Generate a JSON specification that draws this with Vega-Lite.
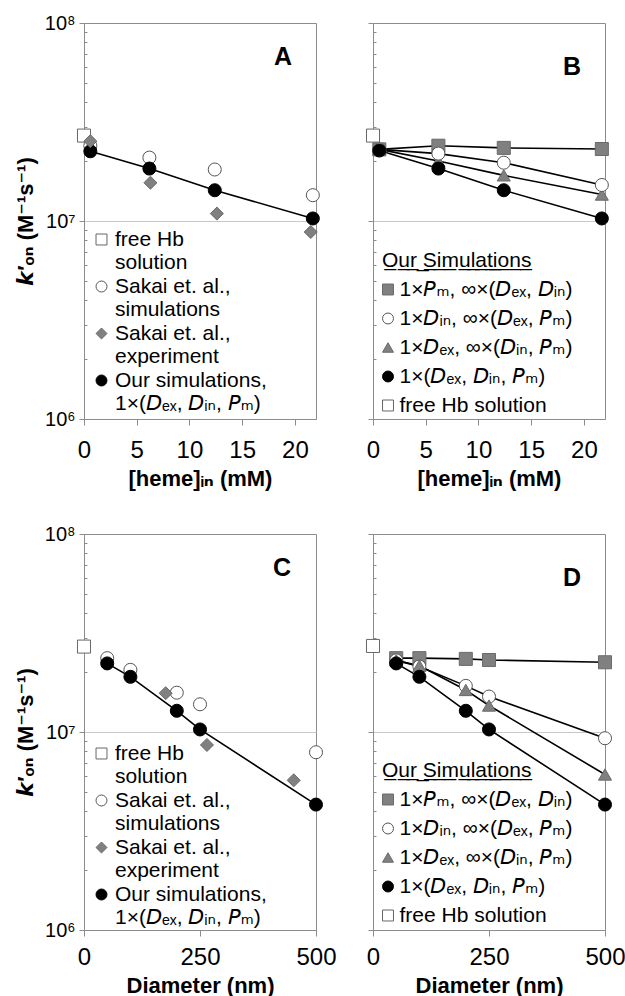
{
  "$schema": "https://vega.github.io/schema/vega-lite/v6.json",
  "background": "white",
  "padding": {"left": 13, "top": 12, "right": 8, "bottom": 4},
  "bounds": "flush",
  "columns": 2,
  "spacing": {"row": 115, "column": 57},
  "config": {
    "font": "Liberation Sans, DejaVu Sans",
    "view": {"stroke": "#8c8c8c", "strokeWidth": 1},
    "axis": {
      "domainColor": "#8c8c8c", "tickColor": "#8c8c8c", "labelColor": "black", "titleColor": "black",
      "labelFlush": false, "labelOverlap": false, "grid": false,
      "labelFont": "Liberation Sans, DejaVu Sans", "titleFont": "Liberation Sans, DejaVu Sans",
      "titleFontWeight": "bold", "titleFontSize": 22
    },
    "axisX": {"labelFontSize": 24, "tickSize": 6, "labelPadding": 13, "titlePadding": 6},
    "axisY": {"labelFontSize": 20, "labelPadding": 4, "titlePadding": 7, "gridColor": "#c8c8c8"},
    "legend": {
      "labelFont": "Liberation Sans, DejaVu Sans", "labelFontSize": 21, "labelColor": "black",
      "titleFont": "Liberation Sans, DejaVu Sans", "titleFontSize": 21, "titleFontWeight": "normal", "titleColor": "black",
      "symbolSize": 120, "symbolStrokeWidth": 1, "padding": 0, "labelLimit": 320, "labelBaseline": "middle"
    },
    "title": {"anchor": "end", "frame": "group", "fontSize": 25, "fontWeight": "bold", "color": "black", "baseline": "alphabetic", "offset": 0}
  },
  "resolve": {
    "scale": {"shape": "independent", "fill": "independent", "stroke": "independent", "x": "independent", "y": "independent"},
    "legend": {"shape": "independent", "fill": "independent", "stroke": "independent"}
  },
  "concat": [
    {
      "width": 232, "height": 396,
      "title": {"text": "A", "dy": 61, "dx": -24},
      "data": {"values": [
        {"heme": 0, "kon": 27000000, "series": "free Hb|solution"},
        {"heme": 0.6, "kon": 24000000, "series": "Sakai et. al.,|simulations"},
        {"heme": 6.2, "kon": 20900000, "series": "Sakai et. al.,|simulations"},
        {"heme": 12.4, "kon": 18200000, "series": "Sakai et. al.,|simulations"},
        {"heme": 21.7, "kon": 13500000, "series": "Sakai et. al.,|simulations"},
        {"heme": 0.6, "kon": 22500000, "series": "Our simulations,|1×(𝘋ₑₓ, 𝘋ᵢₙ, 𝘗ₘ)"},
        {"heme": 6.2, "kon": 18400000, "series": "Our simulations,|1×(𝘋ₑₓ, 𝘋ᵢₙ, 𝘗ₘ)"},
        {"heme": 12.4, "kon": 14300000, "series": "Our simulations,|1×(𝘋ₑₓ, 𝘋ᵢₙ, 𝘗ₘ)"},
        {"heme": 21.7, "kon": 10300000, "series": "Our simulations,|1×(𝘋ₑₓ, 𝘋ᵢₙ, 𝘗ₘ)"},
        {"heme": 0.6, "kon": 25300000, "series": "Sakai et. al.,|experiment"},
        {"heme": 6.3, "kon": 15600000, "series": "Sakai et. al.,|experiment"},
        {"heme": 12.6, "kon": 10900000, "series": "Sakai et. al.,|experiment"},
        {"heme": 21.5, "kon": 8800000, "series": "Sakai et. al.,|experiment"}
      ]},
      "encoding": {
        "x": {"field": "heme", "type": "quantitative", "scale": {"domain": [0, 22]},
              "axis": {"title": "[heme]ᵢₙ (mM)", "values": [0, 5, 10, 15, 20]}},
        "y": {"field": "kon", "type": "quantitative", "scale": {"type": "log", "domain": [1000000, 100000000]},
              "axis": {
                "title": "𝙠′ₒₙ (M⁻¹s⁻¹)",
                "values": [1000000, 2000000, 3000000, 4000000, 5000000, 6000000, 7000000, 8000000, 9000000, 10000000, 20000000, 30000000, 40000000, 50000000, 60000000, 70000000, 80000000, 90000000, 100000000],
                "labelExpr": "datum.value == 1000000 ? '10⁶' : datum.value == 10000000 ? '10⁷' : datum.value == 100000000 ? '10⁸' : ''",
                "tickSize": {"condition": {"test": "datum.value == 1000000 || datum.value == 10000000 || datum.value == 100000000", "value": 5}, "value": -3},
                "grid": true,
                "gridOpacity": {"condition": {"test": "datum.value == 10000000", "value": 1}, "value": 0}
              }}
      },
      "layer": [
        {
          "transform": [{"filter": {"field": "series", "equal": "Our simulations,|1×(𝘋ₑₓ, 𝘋ᵢₙ, 𝘗ₘ)"}}],
          "mark": {"type": "line", "color": "black", "strokeWidth": 1.6},
          "encoding": {"detail": {"field": "series"}}
        },
        {
          "mark": {"type": "point", "filled": true, "size": 170, "strokeWidth": 1, "opacity": 1},
          "encoding": {
            "shape": {"field": "series", "type": "nominal",
              "scale": {"domain": ["free Hb|solution", "Sakai et. al.,|simulations", "Sakai et. al.,|experiment", "Our simulations,|1×(𝘋ₑₓ, 𝘋ᵢₙ, 𝘗ₘ)"], "range": ["square", "circle", "diamond", "circle"]},
              "legend": {"orient": "none", "legendX": 7, "legendY": 206, "title": null, "labelOffset": 3, "rowPadding": 2, "labelExpr": "split(datum.label, '|')"}},
            "fill": {"field": "series", "type": "nominal",
              "scale": {"domain": ["free Hb|solution", "Sakai et. al.,|simulations", "Sakai et. al.,|experiment", "Our simulations,|1×(𝘋ₑₓ, 𝘋ᵢₙ, 𝘗ₘ)"], "range": ["white", "white", "#808080", "black"]},
              "legend": {"orient": "none", "legendX": 7, "legendY": 206, "title": null, "labelOffset": 3, "rowPadding": 2, "labelExpr": "split(datum.label, '|')"}},
            "stroke": {"field": "series", "type": "nominal",
              "scale": {"domain": ["free Hb|solution", "Sakai et. al.,|simulations", "Sakai et. al.,|experiment", "Our simulations,|1×(𝘋ₑₓ, 𝘋ᵢₙ, 𝘗ₘ)"], "range": ["#666666", "#555555", "#6a6a6a", "black"]},
              "legend": {"orient": "none", "legendX": 7, "legendY": 206, "title": null, "labelOffset": 3, "rowPadding": 2, "labelExpr": "split(datum.label, '|')"}}
          }
        }
      ]
    },
    {
      "width": 232, "height": 396,
      "title": {"text": "B", "dy": 61, "dx": -24},
      "data": {"values": [
        {"heme": 0, "kon": 27000000, "series": "free Hb solution"},
        {"heme": 0.6, "kon": 23000000, "series": "1×𝘗ₘ, ∞×(𝘋ₑₓ, 𝘋ᵢₙ)"},
        {"heme": 6.2, "kon": 24000000, "series": "1×𝘗ₘ, ∞×(𝘋ₑₓ, 𝘋ᵢₙ)"},
        {"heme": 12.4, "kon": 23400000, "series": "1×𝘗ₘ, ∞×(𝘋ₑₓ, 𝘋ᵢₙ)"},
        {"heme": 21.7, "kon": 23100000, "series": "1×𝘗ₘ, ∞×(𝘋ₑₓ, 𝘋ᵢₙ)"},
        {"heme": 0.6, "kon": 23000000, "series": "1×𝘋ₑₓ, ∞×(𝘋ᵢₙ, 𝘗ₘ)"},
        {"heme": 6.2, "kon": 20100000, "series": "1×𝘋ₑₓ, ∞×(𝘋ᵢₙ, 𝘗ₘ)"},
        {"heme": 12.4, "kon": 17000000, "series": "1×𝘋ₑₓ, ∞×(𝘋ᵢₙ, 𝘗ₘ)"},
        {"heme": 21.7, "kon": 13600000, "series": "1×𝘋ₑₓ, ∞×(𝘋ᵢₙ, 𝘗ₘ)"},
        {"heme": 0.6, "kon": 23000000, "series": "1×𝘋ᵢₙ, ∞×(𝘋ₑₓ, 𝘗ₘ)"},
        {"heme": 6.2, "kon": 21900000, "series": "1×𝘋ᵢₙ, ∞×(𝘋ₑₓ, 𝘗ₘ)"},
        {"heme": 12.4, "kon": 19700000, "series": "1×𝘋ᵢₙ, ∞×(𝘋ₑₓ, 𝘗ₘ)"},
        {"heme": 21.7, "kon": 15200000, "series": "1×𝘋ᵢₙ, ∞×(𝘋ₑₓ, 𝘗ₘ)"},
        {"heme": 0.6, "kon": 22700000, "series": "1×(𝘋ₑₓ, 𝘋ᵢₙ, 𝘗ₘ)"},
        {"heme": 6.2, "kon": 18400000, "series": "1×(𝘋ₑₓ, 𝘋ᵢₙ, 𝘗ₘ)"},
        {"heme": 12.4, "kon": 14300000, "series": "1×(𝘋ₑₓ, 𝘋ᵢₙ, 𝘗ₘ)"},
        {"heme": 21.7, "kon": 10300000, "series": "1×(𝘋ₑₓ, 𝘋ᵢₙ, 𝘗ₘ)"}
      ]},
      "encoding": {
        "x": {"field": "heme", "type": "quantitative", "scale": {"domain": [0, 22]},
              "axis": {"title": "[heme]ᵢₙ (mM)", "values": [0, 5, 10, 15, 20]}},
        "y": {"field": "kon", "type": "quantitative", "scale": {"type": "log", "domain": [1000000, 100000000]},
              "axis": {
                "title": null, "labels": false,
                "values": [1000000, 2000000, 3000000, 4000000, 5000000, 6000000, 7000000, 8000000, 9000000, 10000000, 20000000, 30000000, 40000000, 50000000, 60000000, 70000000, 80000000, 90000000, 100000000],
                "tickSize": {"condition": {"test": "datum.value == 1000000 || datum.value == 10000000 || datum.value == 100000000", "value": 5}, "value": -3},
                "grid": true,
                "gridOpacity": {"condition": {"test": "datum.value == 10000000", "value": 1}, "value": 0}
              }}
      },
      "layer": [
        {
          "transform": [{"filter": "datum.series != 'free Hb solution'"}],
          "mark": {"type": "line", "color": "black", "strokeWidth": 1.6},
          "encoding": {"detail": {"field": "series"}}
        },
        {
          "mark": {"type": "point", "filled": true, "size": 170, "strokeWidth": 1, "opacity": 1},
          "encoding": {
            "shape": {"field": "series", "type": "nominal",
              "scale": {"domain": ["1×𝘗ₘ, ∞×(𝘋ₑₓ, 𝘋ᵢₙ)", "1×𝘋ᵢₙ, ∞×(𝘋ₑₓ, 𝘗ₘ)", "1×𝘋ₑₓ, ∞×(𝘋ᵢₙ, 𝘗ₘ)", "1×(𝘋ₑₓ, 𝘋ᵢₙ, 𝘗ₘ)", "free Hb solution"], "range": ["square", "circle", "triangle-up", "circle", "square"]},
              "legend": {"orient": "none", "legendX": 9, "legendY": 227, "title": "O̲u̲r̲ ̲S̲i̲m̲u̲l̲a̲t̲i̲o̲n̲s̲", "titlePadding": 8, "symbolOffset": -4.5, "labelOffset": 1, "rowPadding": 7}},
            "fill": {"field": "series", "type": "nominal",
              "scale": {"domain": ["1×𝘗ₘ, ∞×(𝘋ₑₓ, 𝘋ᵢₙ)", "1×𝘋ᵢₙ, ∞×(𝘋ₑₓ, 𝘗ₘ)", "1×𝘋ₑₓ, ∞×(𝘋ᵢₙ, 𝘗ₘ)", "1×(𝘋ₑₓ, 𝘋ᵢₙ, 𝘗ₘ)", "free Hb solution"], "range": ["#808080", "white", "#808080", "black", "white"]},
              "legend": {"orient": "none", "legendX": 9, "legendY": 227, "title": "O̲u̲r̲ ̲S̲i̲m̲u̲l̲a̲t̲i̲o̲n̲s̲", "titlePadding": 8, "symbolOffset": -4.5, "labelOffset": 1, "rowPadding": 7}},
            "stroke": {"field": "series", "type": "nominal",
              "scale": {"domain": ["1×𝘗ₘ, ∞×(𝘋ₑₓ, 𝘋ᵢₙ)", "1×𝘋ᵢₙ, ∞×(𝘋ₑₓ, 𝘗ₘ)", "1×𝘋ₑₓ, ∞×(𝘋ᵢₙ, 𝘗ₘ)", "1×(𝘋ₑₓ, 𝘋ᵢₙ, 𝘗ₘ)", "free Hb solution"], "range": ["#6a6a6a", "#555555", "#6a6a6a", "black", "#666666"]},
              "legend": {"orient": "none", "legendX": 9, "legendY": 227, "title": "O̲u̲r̲ ̲S̲i̲m̲u̲l̲a̲t̲i̲o̲n̲s̲", "titlePadding": 8, "symbolOffset": -4.5, "labelOffset": 1, "rowPadding": 7}}
          }
        }
      ]
    },
    {
      "width": 232, "height": 396,
      "title": {"text": "C", "dy": 61, "dx": -25},
      "data": {"values": [
        {"diameter": 0, "kon": 27000000, "series": "free Hb|solution"},
        {"diameter": 50, "kon": 23600000, "series": "Sakai et. al.,|simulations"},
        {"diameter": 100, "kon": 20600000, "series": "Sakai et. al.,|simulations"},
        {"diameter": 200, "kon": 15800000, "series": "Sakai et. al.,|simulations"},
        {"diameter": 250, "kon": 13800000, "series": "Sakai et. al.,|simulations"},
        {"diameter": 500, "kon": 7900000, "series": "Sakai et. al.,|simulations"},
        {"diameter": 50, "kon": 22200000, "series": "Our simulations,|1×(𝘋ₑₓ, 𝘋ᵢₙ, 𝘗ₘ)"},
        {"diameter": 100, "kon": 19000000, "series": "Our simulations,|1×(𝘋ₑₓ, 𝘋ᵢₙ, 𝘗ₘ)"},
        {"diameter": 200, "kon": 12800000, "series": "Our simulations,|1×(𝘋ₑₓ, 𝘋ᵢₙ, 𝘗ₘ)"},
        {"diameter": 250, "kon": 10300000, "series": "Our simulations,|1×(𝘋ₑₓ, 𝘋ᵢₙ, 𝘗ₘ)"},
        {"diameter": 500, "kon": 4300000, "series": "Our simulations,|1×(𝘋ₑₓ, 𝘋ᵢₙ, 𝘗ₘ)"},
        {"diameter": 176, "kon": 15700000, "series": "Sakai et. al.,|experiment"},
        {"diameter": 265, "kon": 8600000, "series": "Sakai et. al.,|experiment"},
        {"diameter": 452, "kon": 5700000, "series": "Sakai et. al.,|experiment"}
      ]},
      "encoding": {
        "x": {"field": "diameter", "type": "quantitative", "scale": {"domain": [0, 500]},
              "axis": {"title": "Diameter (nm)", "labelPadding": 9, "titlePadding": 6, "values": [0, 250, 500]}},
        "y": {"field": "kon", "type": "quantitative", "scale": {"type": "log", "domain": [1000000, 100000000]},
              "axis": {
                "title": "𝙠′ₒₙ (M⁻¹s⁻¹)",
                "values": [1000000, 2000000, 3000000, 4000000, 5000000, 6000000, 7000000, 8000000, 9000000, 10000000, 20000000, 30000000, 40000000, 50000000, 60000000, 70000000, 80000000, 90000000, 100000000],
                "labelExpr": "datum.value == 1000000 ? '10⁶' : datum.value == 10000000 ? '10⁷' : datum.value == 100000000 ? '10⁸' : ''",
                "tickSize": {"condition": {"test": "datum.value == 1000000 || datum.value == 10000000 || datum.value == 100000000", "value": 5}, "value": -3},
                "grid": true,
                "gridOpacity": {"condition": {"test": "datum.value == 10000000", "value": 1}, "value": 0}
              }}
      },
      "layer": [
        {
          "transform": [{"filter": {"field": "series", "equal": "Our simulations,|1×(𝘋ₑₓ, 𝘋ᵢₙ, 𝘗ₘ)"}}],
          "mark": {"type": "line", "color": "black", "strokeWidth": 1.6},
          "encoding": {"detail": {"field": "series"}}
        },
        {
          "mark": {"type": "point", "filled": true, "size": 170, "strokeWidth": 1, "opacity": 1},
          "encoding": {
            "shape": {"field": "series", "type": "nominal",
              "scale": {"domain": ["free Hb|solution", "Sakai et. al.,|simulations", "Sakai et. al.,|experiment", "Our simulations,|1×(𝘋ₑₓ, 𝘋ᵢₙ, 𝘗ₘ)"], "range": ["square", "circle", "diamond", "circle"]},
              "legend": {"orient": "none", "legendX": 7, "legendY": 209, "title": null, "labelOffset": 3, "rowPadding": 2, "labelExpr": "split(datum.label, '|')"}},
            "fill": {"field": "series", "type": "nominal",
              "scale": {"domain": ["free Hb|solution", "Sakai et. al.,|simulations", "Sakai et. al.,|experiment", "Our simulations,|1×(𝘋ₑₓ, 𝘋ᵢₙ, 𝘗ₘ)"], "range": ["white", "white", "#808080", "black"]},
              "legend": {"orient": "none", "legendX": 7, "legendY": 209, "title": null, "labelOffset": 3, "rowPadding": 2, "labelExpr": "split(datum.label, '|')"}},
            "stroke": {"field": "series", "type": "nominal",
              "scale": {"domain": ["free Hb|solution", "Sakai et. al.,|simulations", "Sakai et. al.,|experiment", "Our simulations,|1×(𝘋ₑₓ, 𝘋ᵢₙ, 𝘗ₘ)"], "range": ["#666666", "#555555", "#6a6a6a", "black"]},
              "legend": {"orient": "none", "legendX": 7, "legendY": 209, "title": null, "labelOffset": 3, "rowPadding": 2, "labelExpr": "split(datum.label, '|')"}}
          }
        }
      ]
    },
    {
      "width": 232, "height": 396,
      "title": {"text": "D", "dy": 61, "dx": -24},
      "data": {"values": [
        {"diameter": 0, "kon": 27200000, "series": "free Hb solution"},
        {"diameter": 50, "kon": 23600000, "series": "1×𝘗ₘ, ∞×(𝘋ₑₓ, 𝘋ᵢₙ)"},
        {"diameter": 100, "kon": 23600000, "series": "1×𝘗ₘ, ∞×(𝘋ₑₓ, 𝘋ᵢₙ)"},
        {"diameter": 200, "kon": 23400000, "series": "1×𝘗ₘ, ∞×(𝘋ₑₓ, 𝘋ᵢₙ)"},
        {"diameter": 250, "kon": 23100000, "series": "1×𝘗ₘ, ∞×(𝘋ₑₓ, 𝘋ᵢₙ)"},
        {"diameter": 500, "kon": 22500000, "series": "1×𝘗ₘ, ∞×(𝘋ₑₓ, 𝘋ᵢₙ)"},
        {"diameter": 50, "kon": 23000000, "series": "1×𝘋ᵢₙ, ∞×(𝘋ₑₓ, 𝘗ₘ)"},
        {"diameter": 100, "kon": 21400000, "series": "1×𝘋ᵢₙ, ∞×(𝘋ₑₓ, 𝘗ₘ)"},
        {"diameter": 200, "kon": 17100000, "series": "1×𝘋ᵢₙ, ∞×(𝘋ₑₓ, 𝘗ₘ)"},
        {"diameter": 250, "kon": 15100000, "series": "1×𝘋ᵢₙ, ∞×(𝘋ₑₓ, 𝘗ₘ)"},
        {"diameter": 500, "kon": 9300000, "series": "1×𝘋ᵢₙ, ∞×(𝘋ₑₓ, 𝘗ₘ)"},
        {"diameter": 50, "kon": 23000000, "series": "1×𝘋ₑₓ, ∞×(𝘋ᵢₙ, 𝘗ₘ)"},
        {"diameter": 100, "kon": 21600000, "series": "1×𝘋ₑₓ, ∞×(𝘋ᵢₙ, 𝘗ₘ)"},
        {"diameter": 200, "kon": 16300000, "series": "1×𝘋ₑₓ, ∞×(𝘋ᵢₙ, 𝘗ₘ)"},
        {"diameter": 250, "kon": 13600000, "series": "1×𝘋ₑₓ, ∞×(𝘋ᵢₙ, 𝘗ₘ)"},
        {"diameter": 500, "kon": 6100000, "series": "1×𝘋ₑₓ, ∞×(𝘋ᵢₙ, 𝘗ₘ)"},
        {"diameter": 50, "kon": 22200000, "series": "1×(𝘋ₑₓ, 𝘋ᵢₙ, 𝘗ₘ)"},
        {"diameter": 100, "kon": 19000000, "series": "1×(𝘋ₑₓ, 𝘋ᵢₙ, 𝘗ₘ)"},
        {"diameter": 200, "kon": 12800000, "series": "1×(𝘋ₑₓ, 𝘋ᵢₙ, 𝘗ₘ)"},
        {"diameter": 250, "kon": 10300000, "series": "1×(𝘋ₑₓ, 𝘋ᵢₙ, 𝘗ₘ)"},
        {"diameter": 500, "kon": 4300000, "series": "1×(𝘋ₑₓ, 𝘋ᵢₙ, 𝘗ₘ)"}
      ]},
      "encoding": {
        "x": {"field": "diameter", "type": "quantitative", "scale": {"domain": [0, 500]},
              "axis": {"title": "Diameter (nm)", "labelPadding": 9, "titlePadding": 6, "values": [0, 250, 500]}},
        "y": {"field": "kon", "type": "quantitative", "scale": {"type": "log", "domain": [1000000, 100000000]},
              "axis": {
                "title": null, "labels": false,
                "values": [1000000, 2000000, 3000000, 4000000, 5000000, 6000000, 7000000, 8000000, 9000000, 10000000, 20000000, 30000000, 40000000, 50000000, 60000000, 70000000, 80000000, 90000000, 100000000],
                "tickSize": {"condition": {"test": "datum.value == 1000000 || datum.value == 10000000 || datum.value == 100000000", "value": 5}, "value": -3},
                "grid": true,
                "gridOpacity": {"condition": {"test": "datum.value == 10000000", "value": 1}, "value": 0}
              }}
      },
      "layer": [
        {
          "transform": [{"filter": "datum.series != 'free Hb solution'"}],
          "mark": {"type": "line", "color": "black", "strokeWidth": 1.6},
          "encoding": {"detail": {"field": "series"}}
        },
        {
          "mark": {"type": "point", "filled": true, "size": 170, "strokeWidth": 1, "opacity": 1},
          "encoding": {
            "shape": {"field": "series", "type": "nominal",
              "scale": {"domain": ["1×𝘗ₘ, ∞×(𝘋ₑₓ, 𝘋ᵢₙ)", "1×𝘋ᵢₙ, ∞×(𝘋ₑₓ, 𝘗ₘ)", "1×𝘋ₑₓ, ∞×(𝘋ᵢₙ, 𝘗ₘ)", "1×(𝘋ₑₓ, 𝘋ᵢₙ, 𝘗ₘ)", "free Hb solution"], "range": ["square", "circle", "triangle-up", "circle", "square"]},
              "legend": {"orient": "none", "legendX": 9, "legendY": 226, "title": "O̲u̲r̲ ̲S̲i̲m̲u̲l̲a̲t̲i̲o̲n̲s̲", "titlePadding": 8, "symbolOffset": -4.5, "labelOffset": 1, "rowPadding": 7}},
            "fill": {"field": "series", "type": "nominal",
              "scale": {"domain": ["1×𝘗ₘ, ∞×(𝘋ₑₓ, 𝘋ᵢₙ)", "1×𝘋ᵢₙ, ∞×(𝘋ₑₓ, 𝘗ₘ)", "1×𝘋ₑₓ, ∞×(𝘋ᵢₙ, 𝘗ₘ)", "1×(𝘋ₑₓ, 𝘋ᵢₙ, 𝘗ₘ)", "free Hb solution"], "range": ["#808080", "white", "#808080", "black", "white"]},
              "legend": {"orient": "none", "legendX": 9, "legendY": 226, "title": "O̲u̲r̲ ̲S̲i̲m̲u̲l̲a̲t̲i̲o̲n̲s̲", "titlePadding": 8, "symbolOffset": -4.5, "labelOffset": 1, "rowPadding": 7}},
            "stroke": {"field": "series", "type": "nominal",
              "scale": {"domain": ["1×𝘗ₘ, ∞×(𝘋ₑₓ, 𝘋ᵢₙ)", "1×𝘋ᵢₙ, ∞×(𝘋ₑₓ, 𝘗ₘ)", "1×𝘋ₑₓ, ∞×(𝘋ᵢₙ, 𝘗ₘ)", "1×(𝘋ₑₓ, 𝘋ᵢₙ, 𝘗ₘ)", "free Hb solution"], "range": ["#6a6a6a", "#555555", "#6a6a6a", "black", "#666666"]},
              "legend": {"orient": "none", "legendX": 9, "legendY": 226, "title": "O̲u̲r̲ ̲S̲i̲m̲u̲l̲a̲t̲i̲o̲n̲s̲", "titlePadding": 8, "symbolOffset": -4.5, "labelOffset": 1, "rowPadding": 7}}
          }
        }
      ]
    }
  ]
}
